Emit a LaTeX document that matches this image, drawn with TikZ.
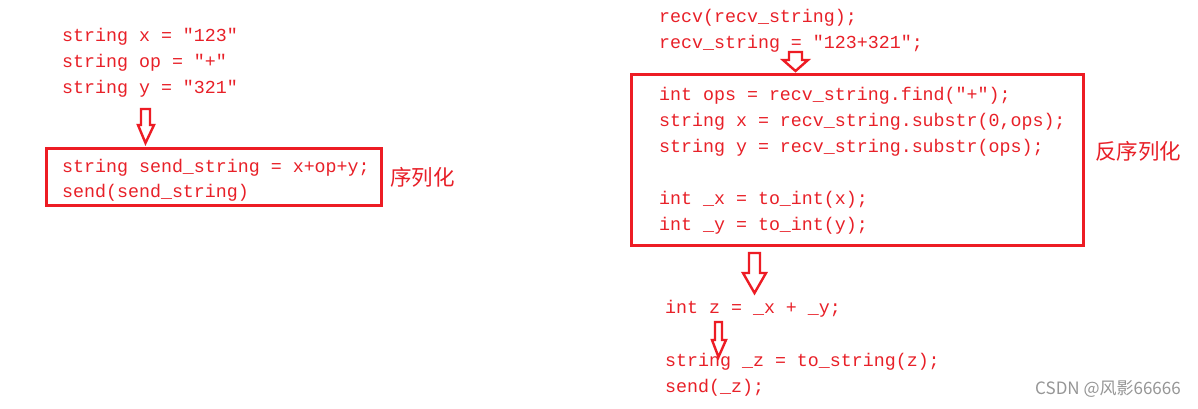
\documentclass[tikz,border=0pt]{standalone}
\usepackage{fontspec}
\newfontfamily\codefont{Liberation Mono}
\newfontfamily\cjkfont{Noto Sans CJK SC}
\definecolor{cred}{RGB}{237,28,36}
\definecolor{tred}{RGB}{232,32,40}
\definecolor{wgray}{RGB}{150,150,150}
\begin{document}
\begin{tikzpicture}[x=1pt,y=-1pt,
  code/.style={anchor=base west,inner sep=0pt,text=tred,font=\codefont\fontsize{18.3}{22}\selectfont},
  cjk/.style={anchor=west,inner sep=0pt,text=tred,font=\cjkfont\fontsize{21.5}{24}\selectfont},
  redbox/.style={draw=cred,line width=3pt},
  harrow/.style={draw=cred,line width=2.4pt,line join=miter,fill=white}]
\useasboundingbox (0,0) rectangle (1198,408);
\fill[white] (0,0) rectangle (1198,408);

% left side
\node[code] (l1) at (62,41) {string x = "123"};
\node[code] (l2) at (62,67) {string op = "+"};
\node[code] (l3) at (62,93) {string y = "321"};
\draw[harrow] (141,109)--(150,109)--(150,125)--(154,125)--(145.5,143)--(138,125)--(141,125)--cycle;
\draw[redbox] (46,148) rectangle (381,205);
\node[code] (l4) at (62,172) {string send\_string = x+op+y;};
\node[code] (l5) at (62,197) {send(send\_string)};
\node[cjk] (ser) at (390,177) {序列化};

% right side
\node[code] (r1) at (659,22) {recv(recv\_string);};
\node[code] (r2) at (659,48) {recv\_string = "123+321";};
\draw[harrow] (789,52)--(802,52)--(802,60)--(808,60)--(795.5,71)--(783,60)--(789,60)--cycle;
\draw[redbox] (631,74) rectangle (1083,245);
\node[code] (r3) at (659,100) {int ops = recv\_string.find("+");};
\node[code] (r4) at (659,126) {string x = recv\_string.substr(0,ops);};
\node[code] (r5) at (659,152) {string y = recv\_string.substr(ops);};
\node[code] (r6) at (659,204) {int \_x = to\_int(x);};
\node[code] (r7) at (659,230) {int \_y = to\_int(y);};
\node[cjk] (deser) at (1095,151) {反序列化};
\draw[harrow] (749,253)--(760,253)--(760,273)--(766,273)--(754.5,293)--(743,273)--(749,273)--cycle;
\node[code] (r8) at (665,313) {int z = \_x + \_y;};
\node[code] (r9) at (665,366) {string \_z = to\_string(z);};
\node[code] (r10) at (665,392) {send(\_z);};
\draw[harrow] (715,322)--(722,322)--(722,340)--(726,340)--(718.5,357)--(712,340)--(715,340)--cycle;

% watermark
\node[anchor=west,inner sep=0pt,text=wgray,font=\cjkfont\fontsize{17}{20}\selectfont] (wm) at (1035,389) {CSDN @风影66666};
\end{tikzpicture}
\end{document}
